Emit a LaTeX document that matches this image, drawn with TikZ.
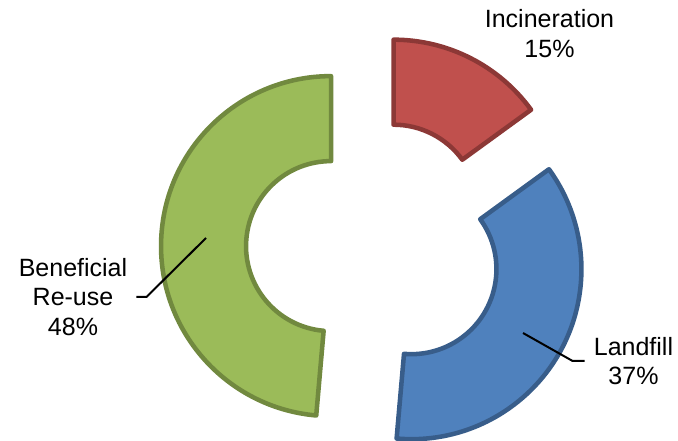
\documentclass[tikz,border=0pt]{standalone}
\usepackage{fontspec}
\setmainfont{Liberation Sans}
\definecolor{incinFill}{HTML}{C0504D}
\definecolor{incinLine}{HTML}{8C3836}
\definecolor{landfFill}{HTML}{4F81BD}
\definecolor{landfLine}{HTML}{385D8A}
\definecolor{reuseFill}{HTML}{9BBB59}
\definecolor{reuseLine}{HTML}{71893F}
\tikzset{
  ringpart/.style={line width=3.4pt, line join=round},
  lbl/.style={align=center, inner sep=6.75pt, font=\fontsize{18.75}{22.1}\selectfont},
  leader/.style={line width=1.5pt}
}
\begin{document}
\begin{tikzpicture}[x=0.75pt, y=0.75pt]
  \useasboundingbox (0,0) rectangle (678,441);
  \begin{scope}[shift={(374,193)}]
    \foreach \from/\to/\mid/\part in {36/90/63/incin, -95/36/-29.5/landf, 90/265/177.5/reuse} {
      \draw[ringpart, fill=\part Fill, draw=\part Line, shift={(\mid:43)}]
        (\from:170) arc[start angle=\from, end angle=\to, radius=170]
        -- (\to:85) arc[start angle=\to, end angle=\from, radius=85] -- cycle;
    }
  \end{scope}
  % labels
  \node[lbl] (incin) at (549.5,407.5) {Incineration\\15\%};
  \node[lbl] (landf) at (633.5,80) {Landfill\\37\%};
  \node[lbl] (reuse) at (73,144) {Beneficial\\Re-use\\48\%};
  \coordinate (landf tip) at (523,108);
  \coordinate (reuse tip) at (206,203);
  \draw[leader] (landf.west) -- ++(-12,0) -- (landf tip);
  \draw[leader] (reuse.east) -- ++(10,0) -- (reuse tip);
\end{tikzpicture}
\end{document}
